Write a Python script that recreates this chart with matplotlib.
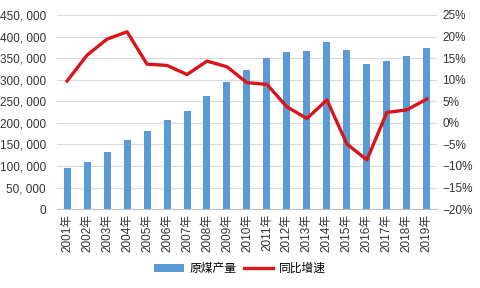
import numpy as np
import matplotlib
matplotlib.use("Agg")
import matplotlib.pyplot as plt
from matplotlib.ticker import FuncFormatter

plt.rcParams['font.family'] = ['Liberation Sans', 'Noto Sans CJK SC', 'DejaVu Sans']
plt.rcParams['axes.unicode_minus'] = True

years = ["%d年" % y for y in range(2001, 2020)]
output = [96000, 109000, 133000, 160000, 181000, 206000, 228000, 262000, 294600,
          322000, 350000, 364000, 366500, 387000, 368800, 337000, 343000, 355700, 373500]
growth = [9.7, 15.7, 19.4, 21.1, 13.6, 13.3, 11.2, 14.3, 13.0,
          9.3, 8.9, 3.7, 1.0, 5.3, -4.9, -8.6, 2.4, 3.0, 5.5]

fig = plt.figure(figsize=(4.8, 2.88), dpi=100)
ax1 = fig.add_axes([0.119, 0.274, 0.791, 0.674])
ax2 = ax1.twinx()

x = np.arange(len(years))
b = ax1.bar(x, output, width=0.35, color='#5B9BD5', label='原煤产量', zorder=2)
l, = ax2.plot(x, growth, color='#D9141B', lw=2.4, label='同比增速', zorder=3)

ax1.set_xlim(-0.5, len(years) - 0.5)
ax1.set_ylim(0, 450000)
ax1.set_yticks(np.arange(0, 450001, 50000))
ax1.yaxis.set_major_formatter(FuncFormatter(lambda v, p: "{:,}".format(int(v)).replace(",", ", ")))
ax2.set_ylim(-20, 25)
ax2.set_yticks(np.arange(-20, 26, 5))
ax2.yaxis.set_major_formatter(FuncFormatter(lambda v, p: "%d%%" % v if v >= 0 else "\u2212%d%%" % -v))

ax1.set_xticks(x)
ax1.set_xticklabels(years, rotation=90)
ax1.grid(axis='y', color='#D9D9D9', lw=0.8, zorder=0)
ax1.set_axisbelow(True)

for ax in (ax1, ax2):
    for s in ('top', 'left', 'right'):
        ax.spines[s].set_visible(False)
    ax.tick_params(length=0, labelsize=8.5, colors='#333333')
ax1.spines['bottom'].set_color('#BFBFBF')
ax2.spines['bottom'].set_visible(False)
ax1.tick_params(axis='y', pad=8)
ax2.tick_params(axis='y', pad=4)

fig.legend([b, l], ['原煤产量', '同比增速'], loc='center', bbox_to_anchor=(0.5, 0.065),
           ncol=2, frameon=False, fontsize=8.5, handlelength=2.5, columnspacing=0.6,
           handletextpad=0.5)

fig.savefig('out.png', dpi=100)
